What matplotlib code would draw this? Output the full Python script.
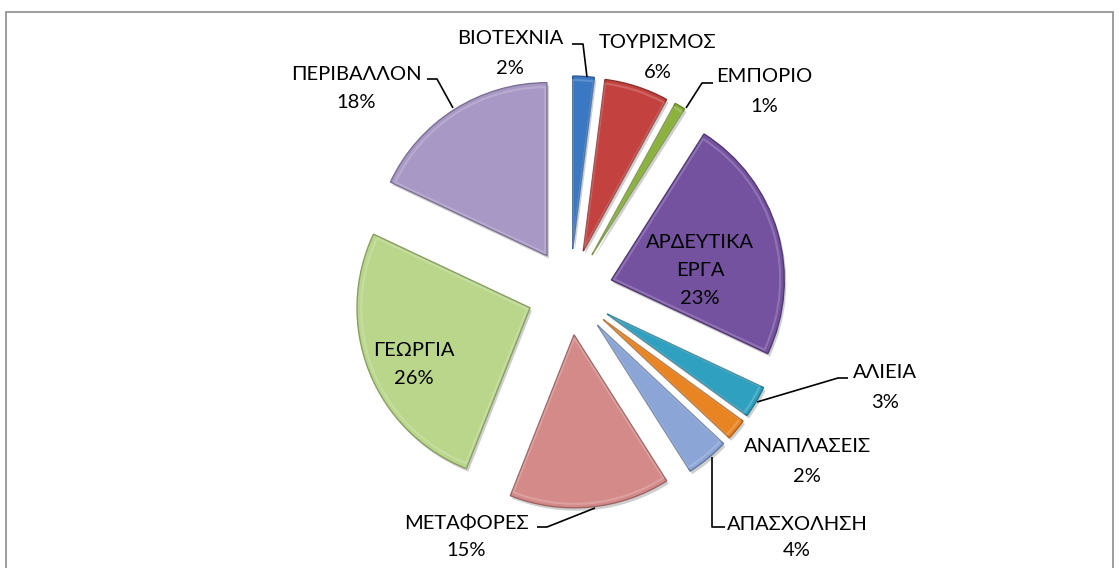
import matplotlib
matplotlib.use("Agg")
import matplotlib.pyplot as plt
from matplotlib.patches import Rectangle

categories = ["ΒΙΟΤΕΧΝΙΑ", "ΤΟΥΡΙΣΜΟΣ", "ΕΜΠΟΡΙΟ", "ΑΡΔΕΥΤΙΚΑ\nΕΡΓΑ", "ΑΛΙΕΙΑ",
              "ΑΝΑΠΛΑΣΕΙΣ", "ΑΠΑΣΧΟΛΗΣΗ", "ΜΕΤΑΦΟΡΕΣ", "ΓΕΩΡΓΙΑ", "ΠΕΡΙΒΑΛΛΟΝ"]
values = [2, 6, 1, 23, 3, 2, 4, 15, 26, 18]
colors = ["#3A78C3", "#C3423F", "#8CB23E", "#7452A0", "#2FA0BF",
          "#E98423", "#8AA5D6", "#D48A89", "#B9D68A", "#A898C6"]
edge_colors = ["#2A5A95", "#8E2E2C", "#66832C", "#523874", "#21768D",
               "#AD611A", "#63799E", "#9C6564", "#889E64", "#7B6F92"]

W, H = 1119, 568
fig = plt.figure(figsize=(W / 100, H / 100), dpi=100)
ax = fig.add_axes([0, 0, 1, 1])

def Y(y):
    return H - y

cx, cy = 570, Y(292)
R = 173
explode = [43] * len(values)   # matplotlib explode offset is absolute in data units

# shadow
ax.pie(values, explode=explode, radius=R, center=(cx + 2, cy - 3), startangle=90,
       counterclock=False, colors=["#00000030"] * len(values),
       wedgeprops=dict(linewidth=0), frame=True)
wedges, _ = ax.pie(values, explode=explode, radius=R, center=(cx, cy), startangle=90,
                   counterclock=False, colors=colors,
                   wedgeprops=dict(linewidth=1.0), frame=True)
for w, ec in zip(wedges, edge_colors):
    w.set_edgecolor(ec)
# inner highlight for a bevel-like look
ax.pie(values, explode=[e + 3 for e in explode], radius=R - 7, center=(cx, cy),
       startangle=90, counterclock=False, colors=["#FFFFFF"] * len(values),
       wedgeprops=dict(linewidth=1.5, edgecolor="#FFFFFF30", fill=False), frame=True)

ax.set_xlim(0, W)
ax.set_ylim(0, H)
ax.set_aspect("equal")
ax.axis("off")

# outer frame
ax.add_patch(Rectangle((6, -5), 1107, Y(12) + 5, fill=False, edgecolor="#8C8C8C", linewidth=1.2))

font = dict(family=["Lato", "DejaVu Sans"], fontsize=14.5, color="black", ha="center", va="center")

# label positions (layout), one per category
label_pos = [(510, 38, 68), (658, 42, 72), (764, 77, 106), (700, 243, None),
             (885, 373, 403), (807, 447, 477), (797, 524, 550), (466, 523, 550),
             (414, 350, 379), (356, 74, 103)]

for cat, val, (lx, ly, py) in zip(categories, values, label_pos):
    if "\n" in cat:
        parts = cat.split("\n")
        ax.text(lx, Y(ly), parts[0], **font)
        ax.text(lx, Y(ly + 27), parts[1], **font)
        ax.text(lx, Y(ly + 55), f"{val}%", **font)
    else:
        ax.text(lx, Y(ly), cat, **font)
        ax.text(lx, Y(py), f"{val}%", **font)

leaders = [
    [(572, 44), (583, 44), (587, 77)],
    [(713, 83), (702, 83), (686, 108)],
    [(848, 378), (838, 378), (757, 402)],
    [(725, 527), (712, 527), (712, 457)],
    [(537, 527), (547, 527), (595, 508)],
    [(427, 79), (437, 79), (453, 108)],
]
for pts in leaders:
    xs = [p[0] for p in pts]
    ys = [Y(p[1]) for p in pts]
    ax.plot(xs, ys, color="black", linewidth=1.2, solid_capstyle="butt")

fig.savefig("out.png", dpi=100)
